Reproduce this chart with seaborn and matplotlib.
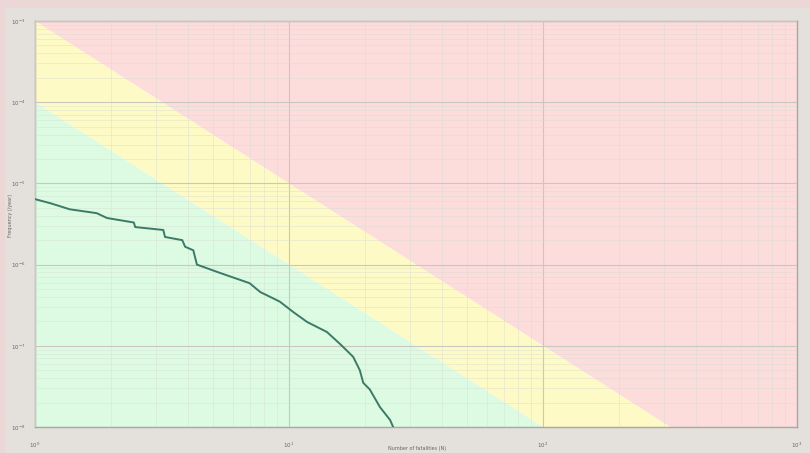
# -*- coding: utf-8 -*-
"""F-N curve on log-log axes with tolerability regions."""

import numpy as np
import pandas as pd
import matplotlib
matplotlib.use("Agg")
import matplotlib.pyplot as plt
from matplotlib.patches import Rectangle
from matplotlib.ticker import LogLocator, LogFormatterMathtext, NullFormatter
import seaborn as sns

# Cumulative frequency curve (N, F)
n_values = [1.0, 1.15, 1.37, 1.75, 1.92, 2.45, 2.48, 3.2, 3.25, 3.8, 3.9,
            4.2, 4.34, 5.35, 7.0, 7.7, 9.2, 10.4, 11.8, 14.1, 15.9, 17.9,
            19.0, 19.6, 20.8, 22.8, 25.0, 25.7]
f_values = [6.4e-6, 5.7e-6, 4.8e-6, 4.3e-6, 3.75e-6, 3.3e-6, 2.9e-6, 2.67e-6,
            2.19e-6, 2.0e-6, 1.66e-6, 1.5e-6, 1.0e-6, 7.9e-7, 5.9e-7, 4.6e-7,
            3.5e-7, 2.6e-7, 1.96e-7, 1.48e-7, 1.05e-7, 7.3e-8, 5.0e-8, 3.5e-8,
            2.9e-8, 1.76e-8, 1.22e-8, 1.0e-8]

# Criterion lines F = C / N^2
upper_const = 1e-3
lower_const = 1e-4
slope = 2

x_min, x_max = 1, 1000
y_min, y_max = 1e-8, 1e-3

curve = pd.DataFrame({"N": n_values, "F": f_values})

sns.set_style("white")
plt.rcParams['font.family'] = ['DejaVu Sans']

fig = plt.figure(figsize=(8.1, 4.53), dpi=100)
fig.patch.set_facecolor('#e4e0dc')
# pink strip round the top and left of the panel
fig.patches.append(Rectangle((0, 0.982), 1, 0.018, transform=fig.transFigure,
                             facecolor='#ecd7d7', edgecolor='none', zorder=0))
fig.patches.append(Rectangle((0, 0), 0.006, 1, transform=fig.transFigure,
                             facecolor='#ecd7d7', edgecolor='none', zorder=0))

ax = fig.add_axes([0.0432, 0.0574, 0.9408, 0.8962])
ax.set_xscale('log')
ax.set_yscale('log')
ax.set_xlim(x_min, x_max)
ax.set_ylim(y_min, y_max)

# Coloured regions
xs = np.logspace(0, 3, 400)
upper = upper_const / xs ** slope
lower = lower_const / xs ** slope
ax.fill_between(xs, upper, y_max, color='#fddcdc', lw=0, zorder=0)
ax.fill_between(xs, lower, upper, color='#fefac6', lw=0, zorder=0)
ax.fill_between(xs, y_min, lower, color='#dcfbe2', lw=0, zorder=0)

# Grid
ax.xaxis.set_major_locator(LogLocator(base=10))
ax.yaxis.set_major_locator(LogLocator(base=10))
ax.xaxis.set_minor_locator(LogLocator(base=10, subs=np.arange(2, 10)))
ax.yaxis.set_minor_locator(LogLocator(base=10, subs=np.arange(2, 10)))
ax.xaxis.set_minor_formatter(NullFormatter())
ax.yaxis.set_minor_formatter(NullFormatter())
ax.grid(True, which='major', color='#c8c8c0', lw=0.8, zorder=1)
ax.grid(True, which='minor', color='#d6dcd2', lw=0.5, alpha=0.6, zorder=1)
ax.set_axisbelow(False)

# F-N curve
sns.lineplot(data=curve, x="N", y="F", ax=ax, color='#3c7a68', lw=1.4,
             estimator=None, sort=False, zorder=3)

# Ticks and labels
ax.xaxis.set_major_formatter(LogFormatterMathtext())
ax.yaxis.set_major_formatter(LogFormatterMathtext())
ax.tick_params(axis='both', which='major', labelsize=4, colors='#666666',
               length=3, width=0.6)
ax.tick_params(axis='x', which='major', pad=7)
ax.tick_params(axis='y', which='major', pad=4)
ax.tick_params(which='minor', length=0)
ax.set_xlabel('')
ax.set_ylabel('')
fig.text(0.515, 0.004, 'Number of fatalities (N)', fontsize=3.5,
         color='#666666', ha='center', va='bottom')
fig.text(0.013, 0.525, 'Frequency (/year)', fontsize=3.5, color='#666666',
         ha='center', va='center', rotation=90)

for side in ['top', 'right', 'bottom', 'left']:
    ax.spines[side].set_color('#a8a8a4')
    ax.spines[side].set_linewidth(1.0)

plt.savefig('out.png', dpi=100, facecolor=fig.get_facecolor())
